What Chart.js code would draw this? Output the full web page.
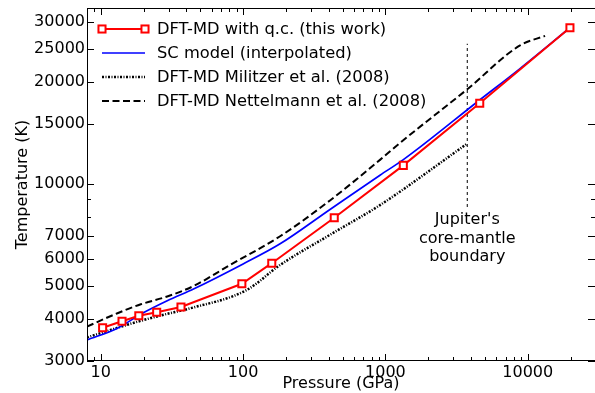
<!DOCTYPE html>
<html>
<head>
<meta charset="utf-8">
<script src="https://cdn.jsdelivr.net/npm/chart.js@4.4.0/dist/chart.umd.min.js"></script>
<style>
  html, body { margin: 0; padding: 0; background: #fff; }
  #wrap { width: 595px; height: 393px; }
</style>
</head>
<body>
<div id="wrap"><canvas id="tempCanvas" width="595" height="393"></canvas></div>
<script>
// DFT-MD with quantum corrections (this work)
const qcPressure = [10.3, 14.1, 18.5, 24.7, 36.6, 98, 159, 437, 1336, 4600, 19800];
const qcTemp = [3760, 3930, 4080, 4180, 4330, 5070, 5830, 7940, 11330, 17270, 28860];

// SC model (interpolated)
const scPressure = [8, 13.1, 19.6, 29.3, 45.2, 100, 182, 408, 916, 1330, 4550, 8830, 19800];
const scTemp = [3460, 3750, 4150, 4520, 4900, 5800, 6650, 8400, 10600, 11760, 17610, 21870, 28860];

// DFT-MD Militzer et al. (2008)
const milPressure = [8, 17.1, 27.8, 42.4, 106, 182, 408, 916, 3760];
const milTemp = [3520, 3890, 4110, 4290, 4860, 5760, 7070, 8650, 13140];

// DFT-MD Nettelmann et al. (2008)
const netPressure = [8, 13.1, 19.1, 29.3, 45.2, 81, 182, 408, 916, 1267, 3760, 8830, 13240];
const netTemp = [3790, 4150, 4410, 4650, 5000, 5760, 7000, 8930, 11760, 13200, 19000, 25600, 27300];

// Jupiter's core-mantle boundary marker
const cmbPressure = [3760, 3760];
const cmbTemp = [8540, 25900];

// axis ticks
const xTicks = [8, 9, 10, 20, 30, 40, 50, 60, 70, 80, 90, 100, 200, 300, 400, 500, 600, 700, 800, 900,
  1000, 2000, 3000, 4000, 5000, 6000, 7000, 8000, 9000, 10000, 20000];
const xLabels = [10, 100, 1000, 10000];
const yTicks = [3000, 4000, 5000, 6000, 7000, 8000, 9000, 10000, 15000, 20000, 25000, 30000];
const yLabels = [3000, 4000, 5000, 6000, 7000, 10000, 15000, 20000, 25000, 30000];

const toPoints = (xs, ys) => xs.map((x, i) => ({x: x, y: ys[i]}));
const FONT = "'DejaVu Sans', sans-serif";

const legendNames = [
  "DFT-MD with q.c. (this work)",
  "SC model (interpolated)",
  "DFT-MD Militzer et al. (2008)",
  "DFT-MD Nettelmann et al. (2008)"
];

// matplotlib-like frame: box plus inward ticks on all four sides
const framePlugin = {
  id: "frame",
  afterDatasetsDraw(chart) {
    const {ctx, chartArea: a, scales} = chart;
    ctx.save();
    ctx.strokeStyle = "#000";
    ctx.lineWidth = 1;
    ctx.setLineDash([]);
    ctx.beginPath();
    // right spine falls just outside the canvas, as in the original crop
    ctx.moveTo(a.right + 0.5, a.top + 0.5);
    ctx.lineTo(a.left + 0.5, a.top + 0.5);
    ctx.lineTo(a.left + 0.5, a.bottom - 0.5);
    ctx.lineTo(a.right + 0.5, a.bottom - 0.5);
    xTicks.forEach(v => {
      const px = Math.round(scales.x.getPixelForValue(v)) + 0.5;
      const len = xLabels.includes(v) ? 7 : 4;
      ctx.moveTo(px, a.bottom); ctx.lineTo(px, a.bottom - len);
      ctx.moveTo(px, a.top); ctx.lineTo(px, a.top + len);
    });
    yTicks.forEach(v => {
      const py = Math.round(scales.y.getPixelForValue(v)) + 0.5;
      const len = yLabels.includes(v) ? 7 : 4;
      ctx.moveTo(a.left, py); ctx.lineTo(a.left + len, py);
      ctx.moveTo(a.right, py); ctx.lineTo(a.right - len, py);
    });
    ctx.stroke();

    // annotation text under the core-mantle line
    const cx = scales.x.getPixelForValue(cmbPressure[0]);
    const by = scales.y.getPixelForValue(cmbTemp[0]);
    ctx.fillStyle = "#000";
    ctx.font = "16px " + FONT;
    ctx.textAlign = "center";
    ctx.textBaseline = "middle";
    ["Jupiter's", "core-mantle", "boundary"].forEach((t, i) => {
      ctx.fillText(t, cx, by + 13 + i * 18.5);
    });

    // legend
    const ds = chart.data.datasets;
    ctx.textAlign = "left";
    ctx.font = "16.3px " + FONT;
    for (let i = 0; i < 4; i++) {
      const d = ds[i];
      const y = a.top + 21 + i * 24;
      const x0 = 102, x1 = 145;
      ctx.strokeStyle = d.borderColor;
      ctx.lineWidth = d.borderWidth;
      ctx.setLineDash(d.borderDash || []);
      ctx.beginPath();
      ctx.moveTo(x0, y); ctx.lineTo(x1, y);
      ctx.stroke();
      ctx.setLineDash([]);
      if (d.pointRadius > 0) {
        const s = d.pointRadius * Math.SQRT1_2;
        [x0, x1].forEach(px => {
          ctx.fillStyle = "#fff";
          ctx.fillRect(px - s, y - s, 2 * s, 2 * s);
          ctx.lineWidth = d.pointBorderWidth;
          ctx.strokeStyle = d.pointBorderColor;
          ctx.strokeRect(px - s, y - s, 2 * s, 2 * s);
        });
      }
      ctx.fillStyle = "#000";
      ctx.fillText(legendNames[i], 157, y + 1);
    }
    ctx.restore();
  }
};

const tempCanvas = document.getElementById("tempCanvas");

const tempChart = new Chart(tempCanvas, {
  type: "line",
  data: {
    datasets: [{
      label: legendNames[0],
      data: toPoints(qcPressure, qcTemp),
      borderColor: "#ff0000",
      borderWidth: 2,
      pointStyle: "rect",
      pointRadius: 5,
      pointBorderWidth: 2,
      pointBorderColor: "#ff0000",
      pointBackgroundColor: "#ffffff",
      tension: 0
    }, {
      label: legendNames[1],
      data: toPoints(scPressure, scTemp),
      borderColor: "#0000ff",
      borderWidth: 1.7,
      pointRadius: 0,
      cubicInterpolationMode: "monotone"
    }, {
      label: legendNames[2],
      data: toPoints(milPressure, milTemp),
      borderColor: "#000000",
      borderWidth: 2.5,
      borderDash: [2, 1.5, 1, 1.5],
      pointRadius: 0,
      cubicInterpolationMode: "monotone"
    }, {
      label: legendNames[3],
      data: toPoints(netPressure, netTemp),
      borderColor: "#000000",
      borderWidth: 2,
      borderDash: [7, 3.5],
      pointRadius: 0,
      cubicInterpolationMode: "monotone"
    }, {
      label: "core-mantle boundary",
      data: toPoints(cmbPressure, cmbTemp),
      borderColor: "#000000",
      borderWidth: 1,
      borderDash: [3, 3],
      pointRadius: 0
    }]
  },
  options: {
    responsive: false,
    animation: false,
    layout: {autoPadding: false, padding: {top: 8, right: 0, left: 0, bottom: 0}},
    plugins: {
      legend: {display: false},
      tooltip: {enabled: false}
    },
    scales: {
      x: {
        type: "logarithmic",
        min: 8,
        max: 29700,
        afterBuildTicks: s => { s.ticks = xTicks.map(v => ({value: v})); },
        afterFit: s => { s.height = 32; s.paddingLeft = 0; s.paddingRight = 0; },
        grid: {display: false, drawTicks: false},
        border: {display: false},
        ticks: {
          autoSkip: false,
          maxRotation: 0,
          padding: 2,
          color: "#000",
          font: {family: FONT, size: 16},
          callback: v => xLabels.includes(v) ? String(v) : ""
        },
        title: {
          display: true,
          text: "Pressure (GPa)",
          color: "#000",
          font: {family: FONT, size: 16},
          padding: {top: 0, bottom: 0}
        }
      },
      y: {
        type: "logarithmic",
        min: 3000,
        max: 33000,
        afterBuildTicks: s => { s.ticks = yTicks.map(v => ({value: v})); },
        afterFit: s => { s.width = 87; s.paddingTop = 0; s.paddingBottom = 0; },
        grid: {display: false, drawTicks: false},
        border: {display: false},
        ticks: {
          autoSkip: false,
          padding: 2,
          color: "#000",
          font: {family: FONT, size: 16},
          callback: v => yLabels.includes(v) ? String(v) : ""
        },
        title: {
          display: true,
          text: "Temperature (K)",
          color: "#000",
          font: {family: FONT, size: 16},
          padding: {top: 13, bottom: 0}
        }
      }
    }
  },
  plugins: [framePlugin]
});
</script>
</body>
</html>
